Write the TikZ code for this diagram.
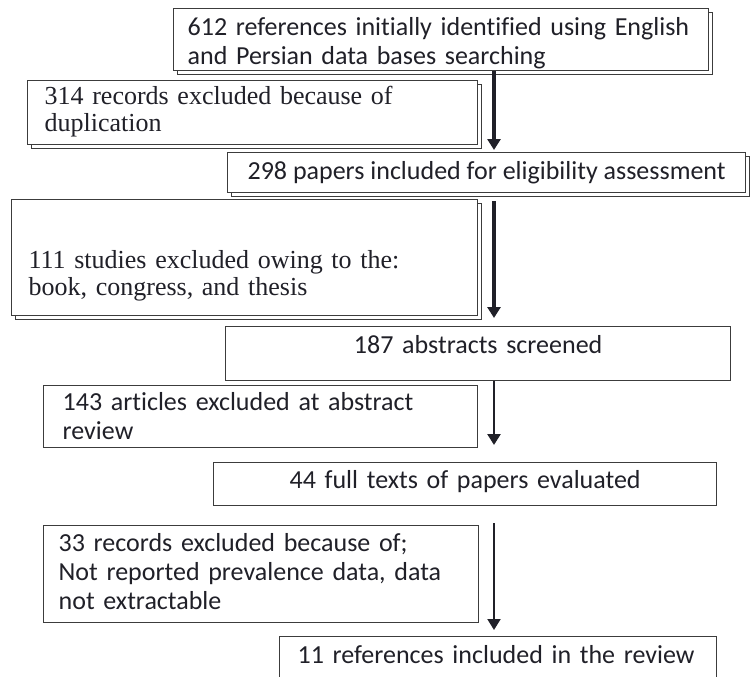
\documentclass[tikz,border=0pt]{standalone}
\usepackage{fontspec}
\setmainfont{Carlito}[Ligatures=NoCommon]
\newfontfamily\timesface{Liberation Serif}
\usepackage{xcolor}
\usetikzlibrary{arrows.meta, shadows}
\definecolor{custom_line}{HTML}{3c3c3c}
\definecolor{custom_text}{HTML}{202028}

\tikzset{
  stagebox/.style={draw=custom_line, line width=1.3pt, fill=white, anchor=north west,
    inner ysep=0pt, text=custom_text, font=\fontsize{26}{29}\selectfont, align=left},
  oldbox/.style={stagebox, copy shadow={shadow xshift=4pt, shadow yshift=-4pt}},
  serifbox/.style={oldbox, font=\timesface\fontsize{26}{27}\selectfont},
  flow/.style={-{Triangle[length=11pt, width=13pt]}, line width=2.5pt, custom_text},
}

\begin{document}
\begin{tikzpicture}[x=1pt, y=-1pt]
\useasboundingbox (0,0) rectangle (753,677);

% boxes, top to bottom
\node[oldbox, text width=507pt, inner xsep=14pt, text height=27pt, text depth=35pt] (found) at (173,8)
  {612 references initially identified using English\\and Persian data bases searching};
\node[serifbox, text width=416pt, inner xsep=17pt, text height=24pt, text depth=40pt] (dupl) at (27,80)
  {314 records excluded because of\\duplication};
\node[oldbox, minimum width=518pt, inner xsep=15pt, text height=27pt, text depth=13pt] (elig) at (227,152)
  {298 papers included for eligibility assessment};
\node[serifbox, text width=432pt, inner xsep=17pt, text height=69pt, text depth=47pt] (owing) at (11,199)
  {111 studies excluded owing to the:\\book, congress, and thesis};
\node[stagebox, align=center, text width=475pt, inner xsep=15pt, text height=27pt, text depth=27pt] (screened) at (225,326)
  {187 abstracts screened};
\node[stagebox, text width=396pt, inner xsep=19pt, text height=25pt, text depth=37pt] (abstr) at (43,385)
  {143 articles excluded at abstract\\review};
\node[stagebox, align=center, text width=473pt, inner xsep=15pt, text height=26pt, text depth=17pt] (fulltext) at (213,462)
  {44 full texts of papers evaluated};
\node[stagebox, text width=405pt, inner xsep=15pt, text height=26pt, text depth=71pt] (extract) at (43,525)
  {33 records excluded because of;\\Not reported prevalence data, data\\not extractable};
\node[stagebox, text width=401pt, inner xsep=18pt, text height=27pt, text depth=38pt] (included) at (279,636)
  {11 references included in the review};

% main flow
\coordinate (spine) at (494,0);
\draw[flow, line width=4pt, shorten >=2pt] (spine |- found.south) -- (spine |- elig.north);
\draw[flow, line width=3.5pt, shorten <=8pt, shorten >=8pt] (spine |- elig.south) -- (spine |- screened.north);
\draw[flow, shorten >=17pt] (spine |- screened.south) -- (spine |- fulltext.north);
\draw[flow, line width=2pt, shorten <=17pt, shorten >=6pt] (spine |- fulltext.south) -- (spine |- included.north);
\end{tikzpicture}
\end{document}
